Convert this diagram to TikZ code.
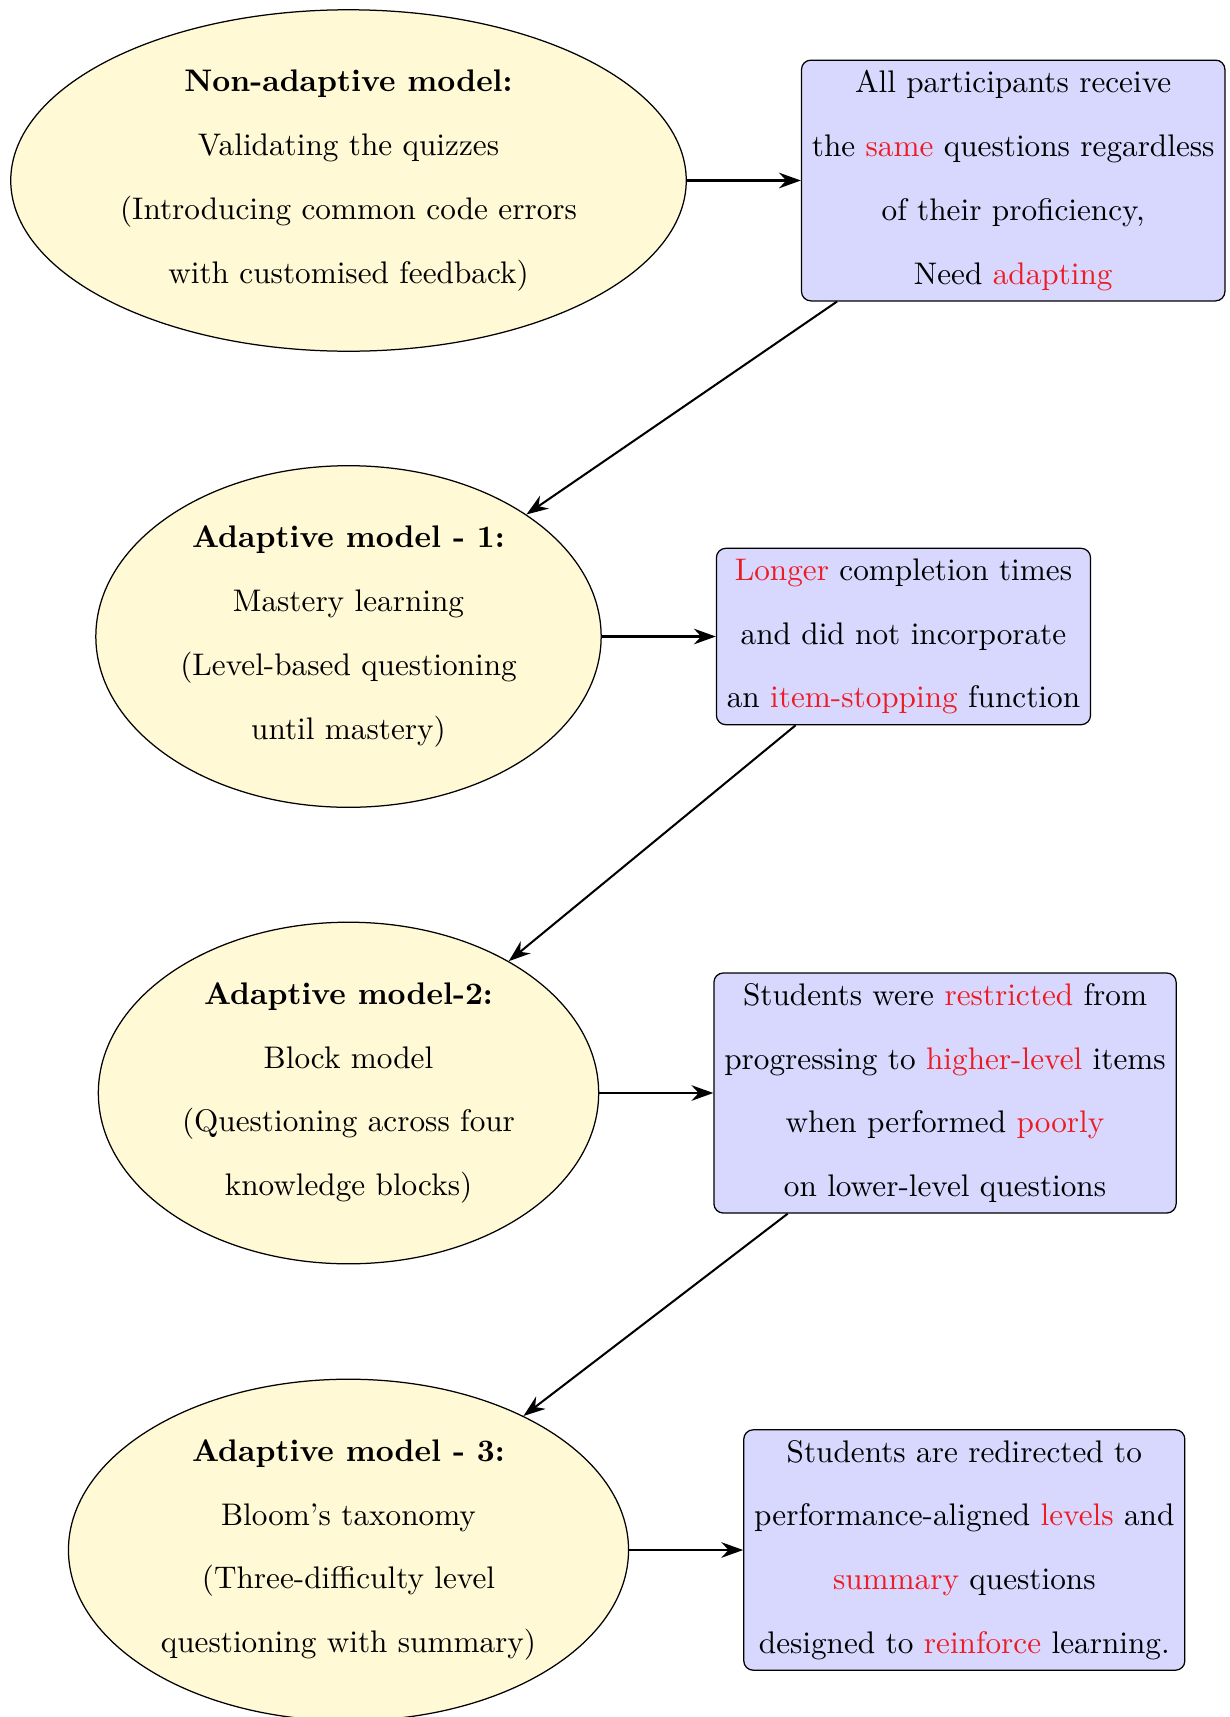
\documentclass[tikz,border=0pt]{standalone}
\usetikzlibrary{shapes.geometric,arrows.meta,positioning}
\definecolor{modelfill}{RGB}{255,249,214}
\definecolor{notefill}{RGB}{216,216,255}
\definecolor{hl}{RGB}{237,28,36}
\newcommand{\hlw}[1]{\textcolor{hl}{#1}}
\begin{document}
\begin{tikzpicture}[x=0.3202pt, y=-0.3202pt,
  model/.style={ellipse, draw, line width=0.4pt, fill=modelfill, align=center,
    font=\fontsize{10}{20.4}\selectfont},
  note/.style={rectangle, rounded corners=3pt, draw, line width=0.4pt, fill=notefill,
    align=center, font=\fontsize{10}{20.4}\selectfont},
  flow/.style={-{Stealth[length=7pt,width=5pt,inset=2.3pt]}, line width=0.65pt},
  node distance=36.5pt]
\useasboundingbox (0,0) rectangle (1230,1717);

% models on the left
\node[model] (m0) at (348.5,180.5)
  {\textbf{Non-adaptive model:}\\ Validating the quizzes\\ (Introducing common code errors\\ with customised feedback)};
\node[model] (m1) at (348.5,636.5)
  {\textbf{Adaptive model - 1:}\\ Mastery learning\\ (Level-based questioning\\ until mastery)};
\node[model] (m2) at (348.5,1093)
  {\textbf{Adaptive model-2:}\\ Block model\\ (Questioning across four\\ knowledge blocks)};
\node[model] (m3) at (348.5,1550)
  {\textbf{Adaptive model - 3:}\\ Bloom's taxonomy\\ (Three-difficulty level\\ questioning with summary)};

% remarks on the right
\node[note, right=of m0] (n0)
  {All participants receive\\ the \hlw{same} questions regardless\\ of their proficiency,\\ Need \hlw{adapting}};
\node[note, right=of m1] (n1)
  {\hlw{Longer} completion times\\ and did not incorporate\\ an \hlw{item-stopping} function};
\node[note, right=of m2] (n2)
  {Students were \hlw{restricted} from\\ progressing to \hlw{higher-level} items\\ when performed \hlw{poorly}\\ on lower-level questions};
\node[note, right=of m3] (n3)
  {Students are redirected to\\ performance-aligned \hlw{levels} and\\ \hlw{summary} questions\\ designed to \hlw{reinforce} learning.};

% connectors
\draw[flow] (m0) -- (n0);
\draw[flow] (m1) -- (n1);
\draw[flow] (m2) -- (n2);
\draw[flow] (m3) -- (n3);
\draw[flow] (n0) -- (m1);
\draw[flow] (n1) -- (m2);
\draw[flow] (n2) -- (m3);
\end{tikzpicture}
\end{document}
